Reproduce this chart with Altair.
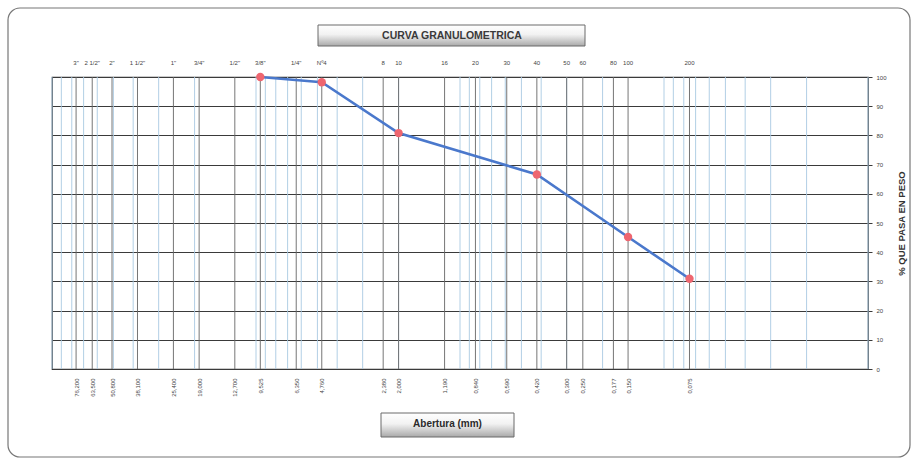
import altair as alt
import pandas as pd

# Sieve openings (mm) and their names
sieve_mm = [76.2, 63.5, 50.8, 38.1, 25.4, 19.0, 12.7, 9.525, 6.35, 4.76,
            2.38, 2.0, 1.19, 0.84, 0.59, 0.42, 0.30, 0.25, 0.177, 0.150, 0.075]
sieve_names = ['3"', '2 1/2"', '2"', '1 1/2"', '1"', '3/4"', '1/2"', '3/8"', '1/4"', 'Nº4',
               '8', '10', '16', '20', '30', '40', '50', '60', '80', '100', '200']

# Measured grading: opening (mm) and % passing
test_mm = [9.525, 4.76, 2.0, 0.42, 0.150, 0.075]
test_pass = [100.0, 98.2, 80.8, 66.6, 45.2, 30.9]

# Log-paper minor lines
minor_mm = [m * 10.0 ** k for k in (-2, -1, 0, 1) for m in range(1, 10)] + [100.0]

pct_ticks = list(range(0, 101, 10))

FONT = "Liberation Sans"
xscale = alt.Scale(type="log", domain=[100, 0.01], nice=False)
yscale = alt.Scale(domain=[0, 100], nice=False)

xaxis = alt.Axis(
    orient="bottom",
    values=sieve_mm,
    labelExpr="replace(format(datum.value, '.3f'), '.', ',')",
    labelAngle=270,
    labelFontSize=6,
    labelColor="#444444",
    labelFont=FONT,
    labelPadding=9,
    labelOverlap=False,
    labelFlush=False,
    ticks=False,
    domain=False,
    grid=False,
    title=None,
)
yaxis = alt.Axis(
    orient="right",
    values=pct_ticks,
    grid=True,
    gridColor="#3a3a3a",
    gridWidth=1,
    tickColor="#3a3a3a",
    tickSize=4,
    labelFontSize=6,
    labelFont=FONT,
    labelColor="#444444",
    labelPadding=4,
    domain=False,
    title="% QUE PASA EN PESO",
    titleAngle=270,
    titleFont=FONT,
    titleFontSize=9.5,
    titleFontWeight="bold",
    titleColor="#333333",
    titlePadding=20,
)

X = alt.X("mm:Q", scale=xscale, axis=xaxis)
Y = alt.Y("pasa:Q", scale=yscale, axis=yaxis)

minor_df = pd.DataFrame({"mm": minor_mm})
sieve_df = pd.DataFrame({"mm": sieve_mm, "name": sieve_names})
test_df = pd.DataFrame({"mm": test_mm, "pasa": test_pass})

minor = alt.Chart(minor_df).mark_rule(color="#a9c9e2", strokeWidth=0.9).encode(x=X)

sieves = alt.Chart(sieve_df).mark_rule(color="#666666", strokeWidth=0.9).encode(x=X)

top_names = alt.Chart(sieve_df).mark_text(
    fontSize=6, font=FONT, color="#444444", baseline="middle"
).encode(x=X, y=alt.value(-14), text="name:N")

line = alt.Chart(test_df).mark_line(color="#4a78cc", strokeWidth=2.6).encode(x=X, y=Y)

points = alt.Chart(test_df).mark_circle(color="#ee6670", size=70, opacity=1).encode(x=X, y=Y)

box_fill = alt.Gradient(
    gradient="linear",
    stops=[
        alt.GradientStop(color="#ffffff", offset=0),
        alt.GradientStop(color="#f2f2f2", offset=0.45),
        alt.GradientStop(color="#a9a9a9", offset=1),
    ],
    x1=0, x2=0, y1=0, y2=1,
)

title_df = pd.DataFrame({"t": ["CURVA GRANULOMETRICA"]})
title_box = alt.Chart(title_df).mark_rect(
    fill=box_fill, stroke="#6a6a6a", strokeWidth=1
).encode(x=alt.value(266), x2=alt.value(533), y=alt.value(-52), y2=alt.value(-31))
title_txt = alt.Chart(title_df).mark_text(
    font=FONT, fontSize=10.5, fontWeight="bold", color="#3a3a3a", baseline="middle"
).encode(x=alt.value(400), y=alt.value(-41.5), text="t:N")

xlab_df = pd.DataFrame({"t": ["Abertura (mm)"]})
xlab_box = alt.Chart(xlab_df).mark_rect(
    fill=box_fill, stroke="#6a6a6a", strokeWidth=1
).encode(x=alt.value(329), x2=alt.value(462), y=alt.value(336), y2=alt.value(360))
xlab_txt = alt.Chart(xlab_df).mark_text(
    font=FONT, fontSize=10, fontWeight="bold", color="#2a2a2a", baseline="middle"
).encode(x=alt.value(395.5), y=alt.value(347), text="t:N")

frame = alt.Chart(title_df).mark_rect(
    fill=None, stroke="#777777", strokeWidth=1.2, cornerRadius=12
).encode(x=alt.value(-44), x2=alt.value(858), y=alt.value(-69), y2=alt.value(380))

chart = alt.layer(
    frame, minor, sieves, line, points, top_names,
    title_box, title_txt, xlab_box, xlab_txt,
).properties(
    width=816,
    height=292,
    autosize=alt.AutoSizeParams(type="none"),
    padding={"left": 52, "top": 77, "right": 45, "bottom": 90},
    background="#ffffff",
).configure_view(
    stroke="#333333", strokeWidth=1.2
)

chart.save("out.html", embed_options={"renderer": "svg", "actions": False})
